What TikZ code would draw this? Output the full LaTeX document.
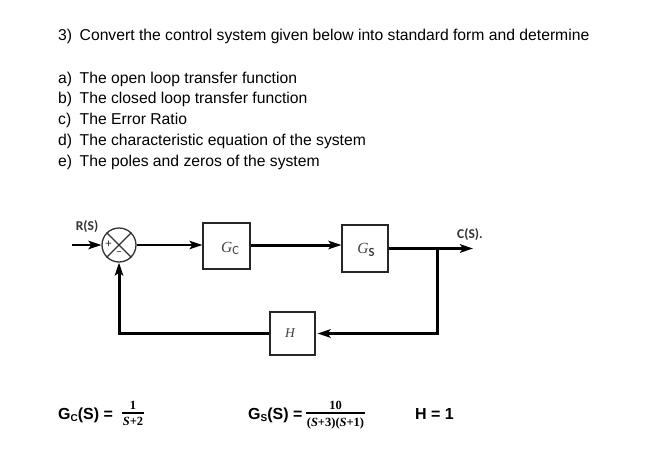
\documentclass[tikz,border=0pt]{standalone}
\usepackage{fontspec}
\setmainfont{Liberation Sans}
\newfontfamily\lserif{Liberation Serif}
\newfontfamily\carl{Carlito}
\usetikzlibrary{arrows.meta}
\begin{document}
\begin{tikzpicture}[x=1pt,y=-1pt,
  txt/.style={anchor=base west,inner sep=0pt,font=\fontsize{15.7}{18}\selectfont},
  blk/.style={draw=black!85,line width=1.2pt,inner sep=0pt},
  blklabel/.style={inner sep=0pt,text=black!75},
  sig/.style={font=\carl\bfseries\fontsize{13.5}{14}\selectfont,text=black!80,inner sep=0pt},
  sgn/.style={font=\carl\fontsize{12}{12}\selectfont,inner sep=0pt,text=black!85},
  wire/.style={line width=3pt},
  thinwire/.style={line width=2pt},
  arr/.style={-{Stealth[length=13pt,width=8.5pt,inset=3pt]}},
  eq/.style={anchor=base west,inner sep=0pt,font=\bfseries\fontsize{16}{18}\selectfont},
  frac/.style={inner sep=0pt,font=\lserif\bfseries\fontsize{12.5}{13}\selectfont},
  fbar/.style={line width=1.3pt}
]
\useasboundingbox[fill=white] (0,0) rectangle (666,452);

% question text
\node[txt] (q) at (58,41) {\makebox[21.5pt][l]{3)}Convert the control system given below into standard form and determine};
\node[txt] (qa) at (58,83) {\makebox[21.5pt][l]{a)}The open loop transfer function};
\node[txt] (qb) at (58,103.8) {\makebox[21.5pt][l]{b)}The closed loop transfer function};
\node[txt] (qc) at (58,124.6) {\makebox[21.5pt][l]{c)}The Error Ratio};
\node[txt] (qd) at (58,145.4) {\makebox[21.5pt][l]{d)}The characteristic equation of the system};
\node[txt] (qe) at (58,166.2) {\makebox[21.5pt][l]{e)}The poles and zeros of the system};

% block diagram
\node[circle,draw=black!80,line width=1.3pt,minimum size=34pt,inner sep=0pt] (sum) at (119,245) {};
\draw[line width=1.1pt,black!80] (sum.north west) -- (sum.south east) (sum.north east) -- (sum.south west);
\node[sgn] (plus) at (108.5,244) {+};
\node[sgn] (minus) at (119,253.5) {–};
\coordinate (in) at (72,245);
\node[sig] (r) at (87,227) {R(S)};

\node[blk,minimum width=47pt,minimum height=46pt] (gc) at (226.5,246) {};
\node[blklabel] (gcl) at (230,248) {\lserif\itshape\fontsize{15.5}{15.5}\selectfont G\raisebox{-2pt}{\carl\upshape\fontsize{12.5}{12.5}\selectfont C}};
\node[blk,minimum width=46pt,minimum height=47pt] (gs) at (365,248.5) {};
\node[blklabel] (gsl) at (366,250) {\lserif\itshape\fontsize{15.5}{15.5}\selectfont G\raisebox{-2.5pt}{\carl\upshape\bfseries\fontsize{12.5}{12.5}\selectfont S}};
\node[blk,minimum width=45pt,minimum height=43pt] (h) at (292.5,333.5) {};
\node[blklabel] (hl) at (290,333) {\lserif\itshape\fontsize{13.5}{13.5}\selectfont H};

\coordinate (br) at (437,248.5);
\coordinate (out) at (473,248.5);
\node[sig] (c) at (470,235) {C(S).};

\draw[thinwire,arr] (in) -- (sum.west);
\draw[thinwire,arr] (sum.east) -- (sum.east -| gc.west);
\draw[wire,arr] (gc.east |- sum.east) -- (sum.east -| gs.west);
\draw[wire] (gs.east) -- (br);
\draw[wire,arr] (br) -- (out);
\draw[wire,arr,shorten >=2pt] (br) |- (h.east);
\draw[wire,arr] (h.west) -| (sum.south);

% equations
\node[eq] (gceq) at (58,419) {G\raisebox{-2pt}{\fontsize{10}{10}\selectfont C}(S) =};
\node[frac] (gcn) at (133,405.5) {1};
\node[frac] (gcd) at (133,421.5) {\textit{S}+2};
\draw[fbar] (122,413) -- (144,413);

\node[eq] (gseq) at (248,419) {G\raisebox{-2pt}{\fontsize{10}{10}\selectfont S}(S) =};
\node[frac] (gsn) at (335.5,405.5) {10};
\node[frac] (gsd) at (335.5,423) {(\textit{S}+3)(\textit{S}+1)};
\draw[fbar] (306,413) -- (365,413);

\node[eq] (heq) at (415,419) {H = 1};
\end{tikzpicture}
\end{document}
